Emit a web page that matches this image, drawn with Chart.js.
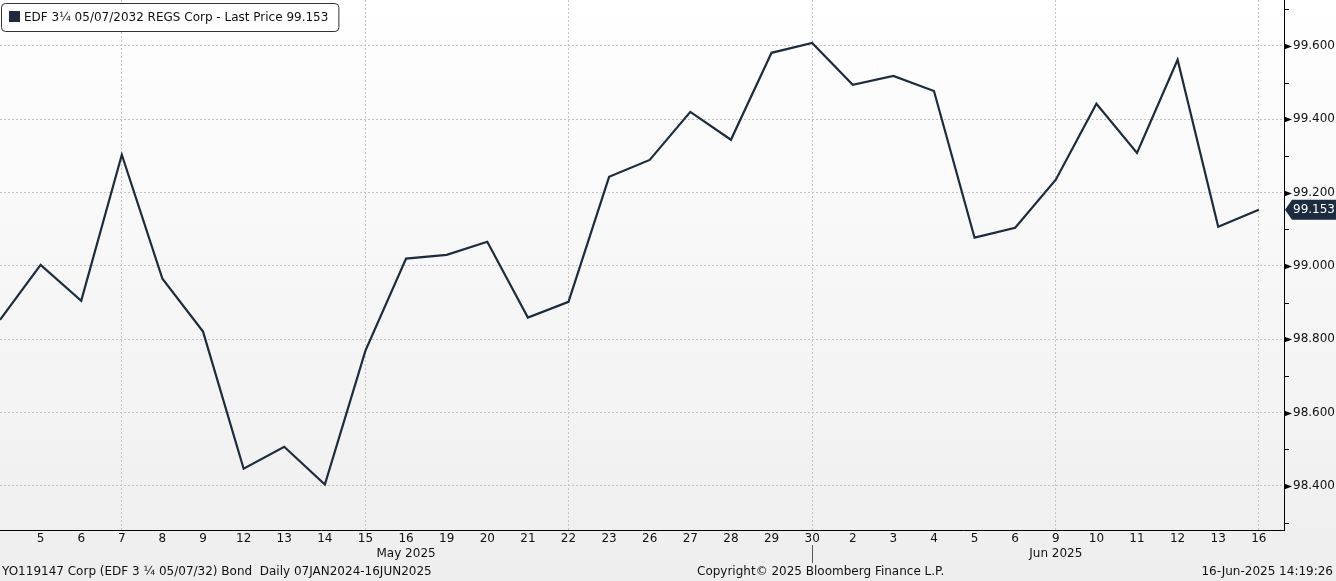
<!DOCTYPE html>
<html>
<head>
<meta charset="utf-8">
<script src="https://cdn.jsdelivr.net/npm/chart.js@4/dist/chart.umd.min.js"></script>
<style>
  body { margin: 0; background: #f0f0f0; }
  #wrap { width: 1336px; height: 581px; }
</style>
</head>
<body>
<div id="wrap"><canvas id="priceChart" width="1336" height="581"></canvas></div>
<script>
// --- data
var dayLabels = ['2', '5', '6', '7', '8', '9', '12', '13', '14', '15', '16', '19', '20', '21', '22', '23', '26', '27', '28', '29', '30',
                 '2', '3', '4', '5', '6', '9', '10', '11', '12', '13', '16'];
var monthOfDay = ['May', 'May', 'May', 'May', 'May', 'May', 'May', 'May', 'May', 'May', 'May', 'May', 'May', 'May', 'May', 'May', 'May', 'May', 'May', 'May', 'May',
                  'Jun', 'Jun', 'Jun', 'Jun', 'Jun', 'Jun', 'Jun', 'Jun', 'Jun', 'Jun', 'Jun'];
var monthNames = ['May 2025', 'Jun 2025'];
var lastPrice = [98.853, 99.003, 98.905, 99.303, 98.965, 98.821, 98.447, 98.507, 98.404, 98.769, 99.020,
                 99.030, 99.066, 98.859, 98.902, 99.243, 99.289, 99.420, 99.344, 99.581, 99.608,
                 99.494, 99.518, 99.477, 99.077, 99.104, 99.235, 99.442, 99.308, 99.562, 99.107, 99.153];
var gridDays = [3, 9, 14, 20, 26, 31];           // days that get a vertical dotted line
var yTicks = [98.3, 98.4, 98.5, 98.6, 98.7, 98.8, 98.9, 99.0, 99.1, 99.2, 99.3, 99.4, 99.5, 99.6, 99.7];
var yLabelled = [98.4, 98.6, 98.8, 99.0, 99.2, 99.4, 99.6];
var seriesName = 'EDF 3¼ 05/07/2032 REGS Corp - Last Price 99.153';
var footerLeft = 'YO119147 Corp (EDF 3 ¼ 05/07/32) Bond  Daily 07JAN2024-16JUN2025';
var footerMid = 'Copyright© 2025 Bloomberg Finance L.P.';
var footerRight = '16-Jun-2025 14:19:26';

var FONT = '"DejaVu Sans", sans-serif';
var NAVY = '#1c2b3e';

function isLabelled(v) {
    return yLabelled.some(function (t) { return Math.abs(t - v) < 1e-6; });
}

var points = lastPrice.map(function (v, i) { return { x: i, y: v }; });

// background gradient for the whole canvas
var bgPlugin = {
    id: 'bg',
    beforeDraw: function (chart) {
        var ctx = chart.ctx;
        var g = ctx.createLinearGradient(0, 0, 0, chart.height);
        g.addColorStop(0, '#ffffff');
        g.addColorStop(1, '#eeeeee');
        ctx.save();
        ctx.fillStyle = g;
        ctx.fillRect(0, 0, chart.width, chart.height);
        ctx.restore();
    }
};

// axis decorations: y tick marks / arrows, month labels, footer, legend box, last price tag
var decoPlugin = {
    id: 'deco',
    afterDraw: function (chart) {
        var ctx = chart.ctx;
        var ys = chart.scales.y, xs = chart.scales.x;
        var area = chart.chartArea;
        ctx.save();

        // y axis tick marks
        ctx.fillStyle = '#000';
        ctx.strokeStyle = '#000';
        ctx.lineWidth = 1;
        yTicks.forEach(function (v) {
            var py = Math.round(ys.getPixelForValue(v)) + 0.5;
            if (isLabelled(v)) {
                ctx.beginPath();
                ctx.moveTo(area.right, py - 3);
                ctx.lineTo(area.right + 8, py);
                ctx.lineTo(area.right, py + 3);
                ctx.closePath();
                ctx.fill();
            } else {
                ctx.beginPath();
                ctx.moveTo(area.right, py);
                ctx.lineTo(area.right + 5, py);
                ctx.stroke();
            }
        });

        // month labels and month separator
        ctx.font = '12px ' + FONT;
        ctx.fillStyle = '#111';
        ctx.textAlign = 'center';
        ctx.textBaseline = 'middle';
        monthNames.forEach(function (name) {
            var key = name.split(' ')[0];
            var first = monthOfDay.indexOf(key), last = monthOfDay.lastIndexOf(key);
            ctx.fillText(name, xs.getPixelForValue((first + last) / 2), 554);
        });
        var sep = monthOfDay.lastIndexOf('May');
        var sx = Math.round(xs.getPixelForValue(sep)) + 0.5;
        ctx.strokeStyle = '#555';
        ctx.beginPath();
        ctx.moveTo(sx, area.bottom + 15);
        ctx.lineTo(sx, area.bottom + 33);
        ctx.stroke();

        // footer
        ctx.fillStyle = '#111';
        ctx.textAlign = 'left';
        ctx.fillText(footerLeft, 2, 572);
        ctx.fillText(footerMid, 697, 572);
        ctx.textAlign = 'right';
        ctx.fillText(footerRight, 1333, 572);

        // legend box
        ctx.font = '12px ' + FONT;
        var tw = ctx.measureText(seriesName).width;
        var bx = 1.5, by = 3.5, bw = tw + 33, bh = 28;
        ctx.fillStyle = '#ffffff';
        ctx.strokeStyle = '#333';
        ctx.beginPath();
        ctx.roundRect(bx, by, bw, bh, 4);
        ctx.fill();
        ctx.stroke();
        ctx.fillStyle = NAVY;
        ctx.fillRect(9, 11, 11, 11);
        ctx.fillStyle = '#111';
        ctx.textAlign = 'left';
        ctx.fillText(seriesName, 24, 17.5);

        // last price tag
        var lv = lastPrice[lastPrice.length - 1];
        var ly = ys.getPixelForValue(lv);
        ctx.fillStyle = NAVY;
        ctx.beginPath();
        ctx.moveTo(area.right + 1, ly);
        ctx.lineTo(area.right + 8, ly - 10);
        ctx.lineTo(chart.width, ly - 10);
        ctx.lineTo(chart.width, ly + 10);
        ctx.lineTo(area.right + 8, ly + 10);
        ctx.closePath();
        ctx.fill();
        ctx.fillStyle = '#ffffff';
        ctx.fillText(lv.toFixed(3), area.right + 9, ly + 0.5);

        ctx.restore();
    }
};

var ctx = document.getElementById('priceChart');
var myChart = new Chart(ctx, {
    type: 'line',
    data: {
        datasets: [{
            label: seriesName,
            data: points,
            borderColor: NAVY,
            borderWidth: 2.2,
            pointRadius: 0,
            tension: 0,
            fill: false
        }]
    },
    options: {
        responsive: false,
        animation: false,
        devicePixelRatio: 1,
        layout: { padding: 0 },
        plugins: {
            legend: { display: false },
            tooltip: { enabled: false }
        },
        scales: {
            x: {
                type: 'linear',
                min: 0,
                max: 31.62,
                afterBuildTicks: function (scale) {
                    scale.ticks = dayLabels.map(function (d, i) { return { value: i }; });
                },
                afterFit: function (scale) {
                    scale.height = 51;
                    scale.paddingLeft = 0;
                    scale.paddingRight = 0;
                },
                ticks: {
                    autoSkip: false,
                    maxRotation: 0,
                    padding: 2,
                    color: '#111',
                    font: { family: FONT, size: 12 },
                    callback: function (v) { return v === 0 ? '' : dayLabels[v]; }
                },
                grid: {
                    drawTicks: false,
                    color: function (c) {
                        return gridDays.indexOf(c.tick && c.tick.value) >= 0 ? '#c4c4c4' : 'rgba(0,0,0,0)';
                    },
                    lineWidth: 1
                },
                border: { display: true, color: '#000', width: 1, dash: [2, 2] }
            },
            y: {
                position: 'right',
                min: 98.28,
                max: 99.725,
                afterBuildTicks: function (scale) {
                    scale.ticks = yTicks.map(function (v) { return { value: v }; });
                },
                afterFit: function (scale) {
                    scale.width = 52;
                    scale.paddingTop = 0;
                    scale.paddingBottom = 0;
                },
                ticks: {
                    padding: 9,
                    color: '#111',
                    font: { family: FONT, size: 12 },
                    callback: function (v) { return isLabelled(v) ? v.toFixed(3) : ''; }
                },
                grid: {
                    drawTicks: false,
                    color: function (c) {
                        return c.tick && isLabelled(c.tick.value) ? '#c4c4c4' : 'rgba(0,0,0,0)';
                    },
                    lineWidth: 1
                },
                border: { display: true, color: '#000', width: 1, dash: [2, 2] }
            }
        }
    },
    plugins: [bgPlugin, decoPlugin]
});
</script>
</body>
</html>
